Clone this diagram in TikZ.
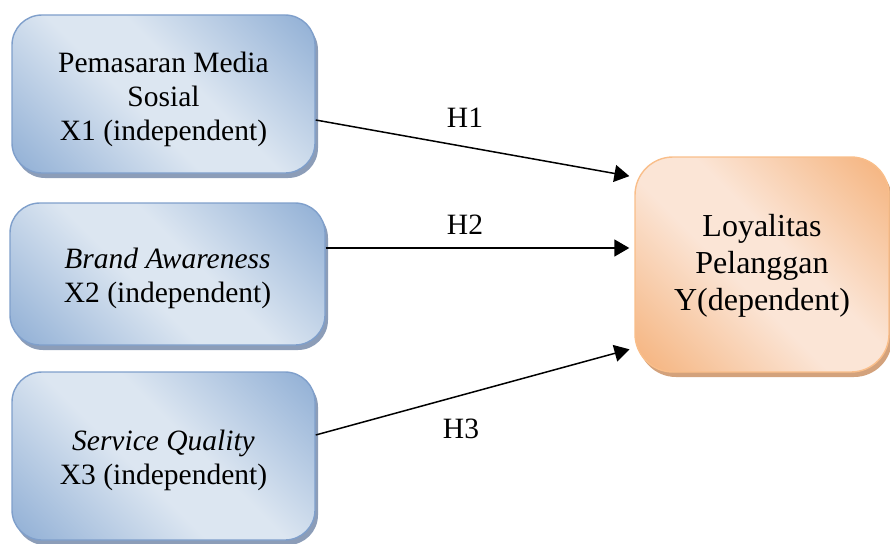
\documentclass[tikz,border=0pt]{standalone}
\usepackage{fontspec}
\setmainfont{Liberation Serif}
\usetikzlibrary{arrows.meta,shadows,calc}

\definecolor{blueLight}{HTML}{DCE6F1}
\definecolor{blueDark}{HTML}{93B1D6}
\definecolor{blueEdge}{HTML}{7F9FCB}
\definecolor{blueShade}{HTML}{8C9DB8}
\definecolor{orangeLight}{HTML}{FBE5D6}
\definecolor{orangeDark}{HTML}{F5B47F}
\definecolor{orangeEdge}{HTML}{F9BE8A}
\definecolor{orangeShade}{HTML}{D3A27C}

% diagonal shadings: dark at two opposite corners, light along the other diagonal
\pgfdeclarehorizontalshading{bluediag}{100bp}{%
  color(0bp)=(blueDark); color(16bp)=(blueDark); color(44bp)=(blueLight);
  color(56bp)=(blueLight); color(84bp)=(blueDark); color(100bp)=(blueDark)}
\pgfdeclarehorizontalshading{orangediag}{100bp}{%
  color(0bp)=(orangeDark); color(16bp)=(orangeDark); color(44bp)=(orangeLight);
  color(56bp)=(orangeLight); color(84bp)=(orangeDark); color(100bp)=(orangeDark)}

\tikzset{
  varbox/.style={draw=blueEdge, line width=1.4pt, rounded corners=30pt,
    shading=bluediag, shading angle=45,
    drop shadow={shadow xshift=3pt, shadow yshift=-5pt, fill=blueShade, opacity=1}},
  depbox/.style={draw=orangeEdge, line width=1.4pt, rounded corners=38pt,
    shading=orangediag, shading angle=45,
    drop shadow={shadow xshift=3pt, shadow yshift=-5pt, fill=orangeShade, opacity=1}},
  boxtext/.style={align=center, inner sep=0pt, font=\fontsize{29.5}{34}\selectfont},
  deptext/.style={align=center, inner sep=0pt, font=\fontsize{32}{37}\selectfont},
  link/.style={line width=1.5pt, -{Triangle[length=15pt,width=17pt]}, shorten >=5pt},
  hyp/.style={font=\fontsize{29.5}{35}\selectfont, inner sep=0pt}
}

\begin{document}
\begin{tikzpicture}[x=1pt, y=-1pt]
  \useasboundingbox (0,0) rectangle (890,543);

  % independent variables
  \node[varbox, minimum width=303pt, minimum height=158pt] (x1) at (163.5,94) {};
  \node[boxtext] (x1t) at ([yshift=-5pt]x1.center)
    {Pemasaran Media\\Sosial\\X1 (independent)};
  \node[varbox, minimum width=315pt, minimum height=142pt] (x2) at (167.5,274) {};
  \node[boxtext] (x2t) at ([yshift=-4pt]x2.center)
    {\textit{Brand Awareness}\\X2 (independent)};
  \node[varbox, minimum width=303pt, minimum height=168pt] (x3) at (163.5,456) {};
  \node[boxtext] (x3t) at ([yshift=-4pt]x3.center)
    {\textit{Service Quality}\\X3 (independent)};

  % dependent variable
  \node[depbox, minimum width=254pt, minimum height=215pt] (y) at (762,264.5) {};
  \node[deptext] (yt) at ([yshift=-1pt]y.center)
    {Loyalitas\\Pelanggan\\Y(dependent)};

  % hypothesised paths
  \draw[link] ([yshift=-26pt]x1.east) -- ([yshift=87.5pt]y.west);
  \draw[link] ([yshift=26pt]x2.east) -- ([yshift=16.5pt]y.west);
  \draw[link] ([yshift=21pt]x3.east) -- ([yshift=-83.5pt]y.west);

  \node[hyp] (h1) at (465,118) {H1};
  \node[hyp] (h2) at (465,225) {H2};
  \node[hyp] (h3) at (461,429) {H3};
\end{tikzpicture}
\end{document}
